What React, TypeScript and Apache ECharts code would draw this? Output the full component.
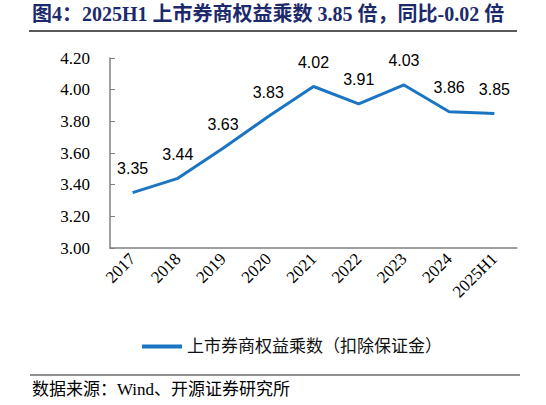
import React, { useEffect, useRef } from 'react';
import * as echarts from 'echarts';

const categories = ['2017', '2018', '2019', '2020', '2021', '2022', '2023', '2024', '2025H1'];
const multiplier = [3.35, 3.44, 3.63, 3.83, 4.02, 3.91, 4.03, 3.86, 3.85];
const seriesName = '上市券商权益乘数（扣除保证金）';
const titleText = '图4：2025H1 上市券商权益乘数 3.85 倍，同比-0.02 倍';
const sourceText = '数据来源：Wind、开源证券研究所';

const SERIF = '"Liberation Serif", "Noto Sans CJK SC", serif';
const LINE_COLOR = '#1b75c2';

const App: React.FC = () => {
  const chartRef = useRef<HTMLDivElement>(null);

  useEffect(() => {
    if (!chartRef.current) return;
    const chart = echarts.init(chartRef.current, null, { renderer: 'svg' });

    const option: echarts.EChartsOption = {
      animation: false,
      backgroundColor: '#fff',
      grid: { left: 110, right: 29, top: 58, bottom: 157 },
      graphic: [
        {
          type: 'text',
          left: 32,
          top: 4,
          style: {
            text: titleText,
            fill: '#1c2a6b',
            font: `bold 20px ${SERIF}`
          }
        },
        {
          type: 'line',
          shape: { x1: 29, y1: 31, x2: 517, y2: 31 },
          style: { stroke: '#222', lineWidth: 1.3 }
        },
        {
          type: 'line',
          shape: { x1: 30, y1: 375, x2: 520, y2: 375 },
          style: { stroke: '#222', lineWidth: 1.2 }
        },
        {
          type: 'text',
          left: 32,
          top: 381,
          style: {
            text: sourceText,
            fill: '#000',
            font: `17px ${SERIF}`
          }
        }
      ],
      legend: {
        left: 137,
        top: 333,
        itemWidth: 40,
        itemHeight: 4,
        itemGap: 6,
        textStyle: { fontFamily: SERIF, fontSize: 17, color: '#111' },
        data: [{ name: seriesName, icon: 'rect' }]
      },
      xAxis: {
        type: 'category',
        data: categories,
        boundaryGap: true,
        axisLine: { lineStyle: { color: '#808080', width: 1.5 } },
        axisTick: { inside: true, length: 5, lineStyle: { color: '#808080' } },
        axisLabel: {
          rotate: 45,
          margin: 8,
          fontFamily: SERIF,
          fontSize: 17,
          color: '#000'
        }
      },
      yAxis: {
        type: 'value',
        min: 3,
        max: 4.2,
        interval: 0.2,
        splitLine: { show: false },
        axisLine: { show: true, lineStyle: { color: '#808080', width: 1.5 } },
        axisTick: { show: true, inside: true, length: 5, lineStyle: { color: '#808080' } },
        axisLabel: {
          margin: 20,
          fontFamily: SERIF,
          fontSize: 17,
          color: '#000',
          formatter: (v: number) => v.toFixed(2)
        }
      },
      series: [
        {
          name: seriesName,
          type: 'line',
          data: multiplier,
          showSymbol: true,
          symbol: 'circle',
          symbolSize: 0,
          lineStyle: { color: LINE_COLOR, width: 3 },
          itemStyle: { color: LINE_COLOR },
          label: {
            show: true,
            position: 'top',
            distance: 16,
            fontFamily: '"Liberation Sans", sans-serif',
            fontSize: 16,
            color: '#000',
            formatter: (p: any) => Number(p.value).toFixed(2)
          }
        }
      ]
    };

    chart.setOption(option);
    return () => {
      chart.dispose();
    };
  }, []);

  return (
    <div
      ref={chartRef}
      style={{ position: 'fixed', left: 0, top: 0, width: 546, height: 405 }}
    />
  );
};

export default App;
